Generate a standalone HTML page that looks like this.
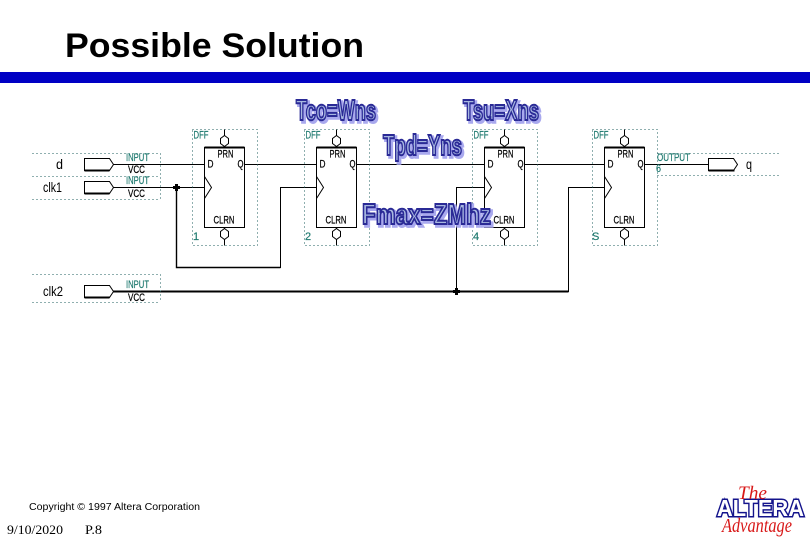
<!DOCTYPE html>
<html><head><meta charset="utf-8"><style>
html,body{margin:0;padding:0;background:#fff;width:810px;height:540px;overflow:hidden}
svg{display:block}
text{font-family:"Liberation Sans",sans-serif}
.dot{stroke:#1f5f5f;stroke-width:1;stroke-dasharray:1 3;fill:none}
.w{stroke:#000;stroke-width:1;fill:none}
.t{fill:#1f7a70;font-size:11px;stroke:#1f7a70;stroke-width:.2}
.k{fill:#000;font-size:11px;stroke:#000;stroke-width:.25}
.n{fill:#000;font-size:14px}
.big{font-weight:bold;font-size:29px}
</style></head><body>
<svg width="810" height="540" viewBox="0 0 810 540" xmlns="http://www.w3.org/2000/svg">
<defs>
<g id="ff">
<rect x="12" y="0" width="65" height="116" class="dot"/>
<rect x="24" y="18" width="40" height="80" fill="#fff" stroke="#000"/>
<path d="M24 18H64" stroke="#000" stroke-width="2"/>
<path d="M24 47L31 58L24 69" class="w"/>
<path d="M44 0V6M44 17V18M44 98V99M44 110V116" class="w"/>
<path d="M44 6L48 9L48 14L44 17L40 14L40 9Z M44 99L48 102L48 107L44 110L40 107L40 102Z" fill="#fff" stroke="#000"/>
<text x="37" y="28" class="k" textLength="16" lengthAdjust="spacingAndGlyphs">PRN</text>
<text x="27" y="38" class="k" textLength="6" lengthAdjust="spacingAndGlyphs">D</text>
<text x="57" y="38" class="k" textLength="6" lengthAdjust="spacingAndGlyphs">Q</text>
<text x="33" y="94" class="k" textLength="21" lengthAdjust="spacingAndGlyphs">CLRN</text>
<text x="13" y="9" class="t" textLength="15" lengthAdjust="spacingAndGlyphs">DFF</text>
</g>
<path id="pin" d="M0 0H25L29 6L25 12H0Z" fill="#fff" stroke="#000"/>
</defs>

<text x="65" y="57" font-size="34" font-weight="bold" textLength="299" lengthAdjust="spacingAndGlyphs">Possible Solution</text>
<rect x="0" y="72" width="810" height="11" fill="#0000c4"/>

<g transform="translate(.5 .5)">
<!-- wires -->
<path class="w" d="M113 164H204M113 187H204M244 164H316M176 187V267H280V187H316M356 164H484M524 164H604M456 291V187H484M644 164H708"/>
<path d="M176 187V267H280" fill="none" stroke="#000" stroke-width="1.4"/>
<path d="M113 291H568V187H604" fill="none" stroke="#000"/>
<path d="M113 291H568" stroke="#000" stroke-width="2"/>

<!-- dotted pin regions -->
<path class="dot" d="M32 153H160M32 176H160M32 199H160M32 274H160M32 302H160M657 153H780M657 175H780"/>
<path class="dot" d="M160 153V199M160 274V302"/>

<!-- flip-flops -->
<use href="#ff" x="180" y="129"/>
<use href="#ff" x="292" y="129"/>
<use href="#ff" x="460" y="129"/>
<use href="#ff" x="580" y="129"/>

<!-- junctions -->
<path d="M176 183.500V190.500M172.500 187H179.500M456 287.500V294.500M452.500 291H459.500" stroke="#000" stroke-width="3"/>

<!-- pins -->
<use href="#pin" x="84" y="158"/><path d="M84 170H109" stroke="#000" stroke-width="2"/>
<use href="#pin" x="84" y="181"/><path d="M84 193H109" stroke="#000" stroke-width="2"/>
<use href="#pin" x="84" y="285"/><path d="M84 297H109" stroke="#000" stroke-width="2"/>
<use href="#pin" x="708" y="158"/><path d="M708 170H734" stroke="#000" stroke-width="2"/>
</g>

<text x="193" y="240" class="t">1</text>
<text x="305" y="240" class="t">2</text>
<text x="473" y="240" class="t">4</text>
<text x="592" y="240" class="t">S</text>

<text x="56" y="169" class="n" textLength="7" lengthAdjust="spacingAndGlyphs">d</text>
<text x="43" y="192" class="n" textLength="19" lengthAdjust="spacingAndGlyphs">clk1</text>
<text x="43" y="296" class="n" textLength="20" lengthAdjust="spacingAndGlyphs">clk2</text>
<text x="746" y="169" class="n" textLength="6" lengthAdjust="spacingAndGlyphs">q</text>

<text x="126" y="161" class="t" textLength="23" lengthAdjust="spacingAndGlyphs">INPUT</text>
<text x="128" y="173" class="k" textLength="17" lengthAdjust="spacingAndGlyphs">VCC</text>
<text x="126" y="184" class="t" textLength="23" lengthAdjust="spacingAndGlyphs">INPUT</text>
<text x="128" y="197" class="k" textLength="17" lengthAdjust="spacingAndGlyphs">VCC</text>
<text x="126" y="288" class="t" textLength="23" lengthAdjust="spacingAndGlyphs">INPUT</text>
<text x="128" y="301" class="k" textLength="17" lengthAdjust="spacingAndGlyphs">VCC</text>
<text x="657" y="161" class="t" textLength="33" lengthAdjust="spacingAndGlyphs">OUTPUT</text>
<text x="656" y="172" class="t" textLength="5" lengthAdjust="spacingAndGlyphs">6</text>

<!-- timing labels: shadow then body -->
<g class="big" fill="#a9a9ee" stroke="#a9a9ee" stroke-width="3.5">
<text x="298" y="122" textLength="80" lengthAdjust="spacingAndGlyphs">Tco=Wns</text>
<text x="465" y="122" textLength="76" lengthAdjust="spacingAndGlyphs">Tsu=Xns</text>
<text x="385" y="157" textLength="79" lengthAdjust="spacingAndGlyphs">Tpd=Yns</text>
<text x="364" y="226" textLength="129" lengthAdjust="spacingAndGlyphs">Fmax=ZMhz</text>
</g>
<g class="big" fill="#a8b8e0" stroke="#2a2a96" stroke-width="2">
<text x="296" y="120" textLength="80" lengthAdjust="spacingAndGlyphs">Tco=Wns</text>
<text x="463" y="120" textLength="76" lengthAdjust="spacingAndGlyphs">Tsu=Xns</text>
<text x="383" y="155" textLength="79" lengthAdjust="spacingAndGlyphs">Tpd=Yns</text>
<text x="362" y="224" textLength="129" lengthAdjust="spacingAndGlyphs">Fmax=ZMhz</text>
</g>

<!-- footer -->
<text x="29" y="510" font-size="10" textLength="171" lengthAdjust="spacingAndGlyphs">Copyright © 1997 Altera Corporation</text>
<text x="7" y="534" font-size="13" style="font-family:'Liberation Serif',serif" textLength="56" lengthAdjust="spacingAndGlyphs">9/10/2020</text>
<text x="85" y="534" font-size="13" style="font-family:'Liberation Serif',serif" textLength="17" lengthAdjust="spacingAndGlyphs">P.8</text>

<!-- logo -->
<text x="717" y="516" font-size="23" font-weight="bold" fill="#fff" stroke="#14148c" stroke-width="3" paint-order="stroke" textLength="87" lengthAdjust="spacingAndGlyphs">ALTERA</text>
<text x="738" y="499" font-size="19" font-style="italic" fill="#d81818" style="font-family:'Liberation Serif',serif" textLength="29" lengthAdjust="spacingAndGlyphs">The</text>
<text x="722" y="532" font-size="20" font-style="italic" fill="#d81818" style="font-family:'Liberation Serif',serif" textLength="70" lengthAdjust="spacingAndGlyphs">Advantage</text>
</svg>
</body></html>
